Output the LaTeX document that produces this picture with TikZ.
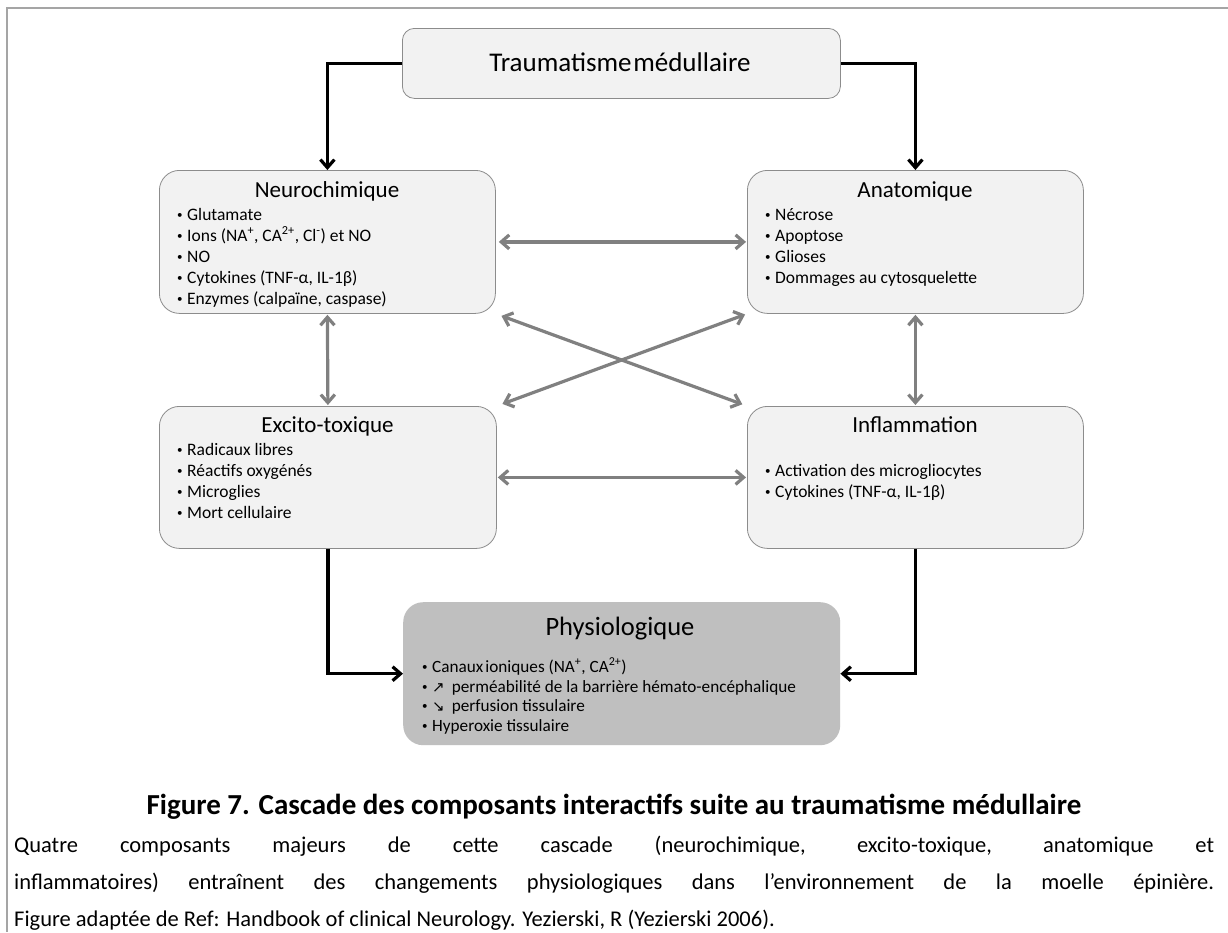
\documentclass[tikz,border=0pt]{standalone}
\usepackage{fontspec}
\setmainfont{Carlito}
\newfontfamily\symbfont{DejaVu Sans}
\usetikzlibrary{arrows.meta}
\definecolor{panelfill}{HTML}{F2F2F2}
\definecolor{paneledge}{HTML}{8C8C8C}
\definecolor{physfill}{HTML}{BFBFBF}
\definecolor{linkgray}{HTML}{808080}
\definecolor{framegray}{HTML}{A5A5A5}
\newcommand{\fsz}[2]{\fontsize{#1}{#2}\selectfont}
% small list bullet followed by a fixed indent
\newcommand{\bul}{\makebox[10pt][l]{\raisebox{1.2pt}{\fontsize{11}{11}\selectfont\textbullet}}}
\newcommand{\trend}[1]{{\symbfont\fontsize{15}{15}\selectfont #1}\hspace{7pt}}
\begin{document}
\begin{tikzpicture}[x=1pt,y=-1pt,
  panel/.style={draw=paneledge, line width=0.8pt, fill=panelfill, rounded corners=20pt, inner sep=0pt, anchor=north west},
  headbox/.style={panel, rounded corners=12pt},
  physbox/.style={fill=physfill, draw=none, rounded corners=20pt, inner sep=0pt, anchor=north west},
  paneltitle/.style={font=\fsz{23}{27}, inner sep=0pt, anchor=base},
  entry/.style={font=\fsz{17.5}{21}, inner sep=0pt, anchor=base west},
  physentry/.style={entry, font=\fsz{17.2}{20}},
  flow/.style={line width=3.2pt, -{Straight Barb[length=8pt,width=14pt]}},
  link/.style={draw=linkgray, line width=3.2pt, {Straight Barb[length=8pt,width=14pt]}-{Straight Barb[length=8pt,width=14pt]}},
  captext/.style={font=\fsz{22.5}{27}, inner sep=0pt, anchor=base west},
]
\useasboundingbox (0,0) rectangle (1228,932);
\fill[white] (0,0) rectangle (1228,932);

% outer frame (top and left sides)
\draw[framegray, line width=2pt] (1228,8) -- (7,8) -- (7,932);

% boxes
\node[headbox, minimum width=438pt, minimum height=70pt] (trauma) at (402,28) {};
\node[panel, minimum width=336pt, minimum height=143pt] (neuro) at (159,170) {};
\node[panel, minimum width=336pt, minimum height=143pt] (anat) at (747,170) {};
\node[panel, minimum width=337pt, minimum height=142pt] (excito) at (159,406) {};
\node[panel, minimum width=336pt, minimum height=142pt] (inflam) at (747,406) {};
\node[physbox, minimum width=437pt, minimum height=143pt] (phys) at (403,602) {};

% titles
\node[font=\fsz{27}{31}, inner sep=0pt, anchor=base] (traumat) at (620,71) {Traumatisme\hspace{0.06em}médullaire};
\node[paneltitle] (neurot) at (327,197) {Neurochimique};
\node[paneltitle] (anatt) at (915,197) {Anatomique};
\node[paneltitle] (excitot) at (327.5,432) {Excito-toxique};
\node[paneltitle] (inflamt) at (915,432) {Inflammation};
\node[paneltitle, font=\fsz{26.5}{30}] (physt) at (620,635) {Physiologique};

% entries
\node[entry] (neuro1) at (177,220) {\bul Glutamate};
\node[entry] (neuro2) at (177,241) {\bul Ions (NA\textsuperscript{+}, CA\textsuperscript{2+}, Cl\textsuperscript{-}) et NO};
\node[entry] (neuro3) at (177,262) {\bul NO};
\node[entry] (neuro4) at (177,283) {\bul Cytokines (TNF-α, IL-1β)};
\node[entry] (neuro5) at (177,304) {\bul Enzymes (calpaïne, caspase)};

\node[entry] (anat1) at (765,220) {\bul Nécrose};
\node[entry] (anat2) at (765,241) {\bul Apoptose};
\node[entry] (anat3) at (765,262) {\bul Glioses};
\node[entry] (anat4) at (765,283) {\bul Dommages au cytosquelette};

\node[entry] (excito1) at (177,455) {\bul Radicaux libres};
\node[entry] (excito2) at (177,476) {\bul Réactifs oxygénés};
\node[entry] (excito3) at (177,497) {\bul Microglies};
\node[entry] (excito4) at (177,518) {\bul Mort cellulaire};

\node[entry] (inflam1) at (765,476) {\bul Activation des microgliocytes};
\node[entry] (inflam2) at (765,497) {\bul Cytokines (TNF-α, IL-1β)};

\node[physentry] (phys1) at (422,672) {\bul Canaux\hspace{0.12em}ioniques (NA\textsuperscript{+}, CA\textsuperscript{2+})};
\node[physentry] (phys2) at (422,692) {\bul \trend{↗}perméabilité de la barrière hémato-encéphalique};
\node[physentry] (phys3) at (422,711) {\bul \trend{↘}perfusion tissulaire};
\node[physentry] (phys4) at (422,731) {\bul Hyperoxie tissulaire};

% black cascade arrows
\draw[flow] (trauma.west) -| (neuro.north);
\draw[flow] (trauma.east) -| (anat.north);
\draw[flow] (excito.south) |- (phys.west);
\draw[flow] (inflam.south) |- (phys.east);

% grey interaction arrows
\draw[link, shorten <=3pt, shorten >=1pt] (neuro.east) -- (anat.west);
\draw[link, shorten <=1pt, shorten >=1pt] (neuro.south) -- (excito.north);
\draw[link, shorten <=1pt, shorten >=1pt] (anat.south) -- (inflam.north);
\draw[link, shorten <=1pt, shorten >=1pt] (excito.east) -- (inflam.west);
\draw[link, shorten <=6pt, shorten >=5pt] (neuro.south east) -- (inflam.north west);
\draw[link, shorten <=6pt, shorten >=2pt] (excito.north east) -- (anat.south west);

% caption
\node[font=\bfseries\fsz{29}{34}, inner sep=0pt, anchor=base] (captitle) at (614,814) {Figure 7. Cascade des composants interactifs suite au traumatisme médullaire};
\node[captext] (cap1) at (14,852) {\makebox[1200pt][s]{Quatre composants majeurs de cette cascade (neurochimique, excito-toxique, anatomique et}};
\node[captext] (cap2) at (14,889) {\makebox[1200pt][s]{inflammatoires) entraînent des changements physiologiques dans l’environnement de la moelle épinière.}};
\node[captext] (cap3) at (14,926) {Figure adaptée de Ref: Handbook of clinical Neurology. Yezierski, R (Yezierski 2006).};
\end{tikzpicture}
\end{document}
